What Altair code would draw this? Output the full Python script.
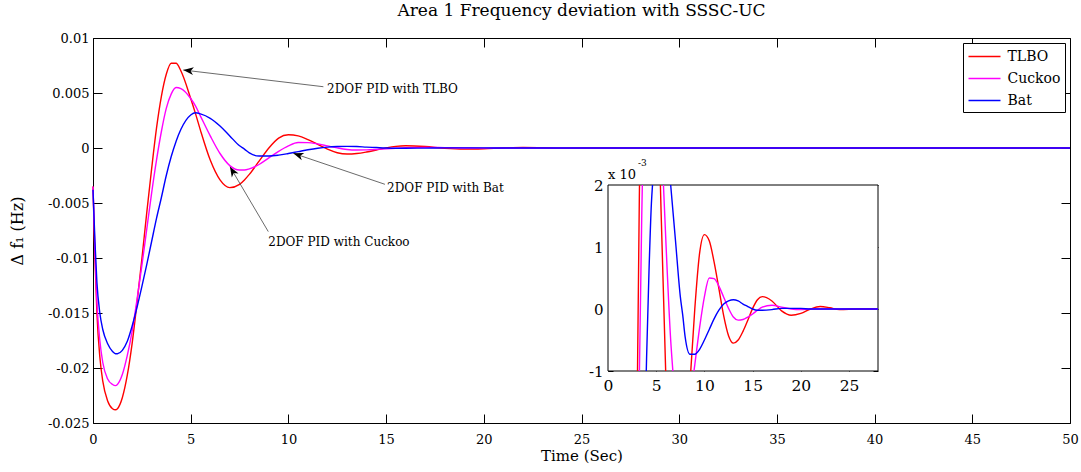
import math
import altair as alt
import pandas as pd

# ---------------- data ----------------
SERIES = ["TLBO", "Cuckoo", "Bat"]
COLORS = ["#ff0000", "#ff00ff", "#0000ff"]

TIME = [0, 0.1, 0.2, 0.35, 0.5, 0.75, 1.0, 1.15, 1.25, 1.5, 1.75, 2.0, 2.25, 2.5, 2.75,
        3.0, 3.25, 3.5, 3.75, 4.0, 4.25, 4.5, 5.0, 5.25, 5.5, 6.0, 6.5, 7.0, 7.5, 7.75,
        8.0, 8.5, 9.0, 9.5, 10.0, 10.5, 11.0, 11.5, 12.0, 12.5, 13.0, 13.5, 14.0, 14.5,
        15.0, 15.5, 16.0, 17.0, 18.0, 19.0, 20.0, 21.0, 22.0, 23.0, 24.0, 26.0, 28.0,
        30.0, 40.0, 50.0]

TLBO = [-0.0035, -0.0100, -0.0150, -0.0190, -0.0212, -0.0230, -0.0237, -0.0238, -0.0237,
        -0.0227, -0.0207, -0.0178, -0.0141, -0.0101, -0.0059, -0.0019, 0.0018, 0.0047,
        0.0067, 0.0077, 0.0077, 0.0070, 0.0045, 0.0031, 0.0016, -0.0011, -0.0029, -0.0036,
        -0.0033, -0.0029, -0.0024, -0.0012, 0.0000, 0.0009, 0.0012, 0.0011, 0.00076,
        0.00033, -0.00011, -0.00043, -0.00055, -0.00050, -0.00036, -0.00018, 0.00001,
        0.00015, 0.00020, 0.00013, -0.00003, -0.00010, -0.00007, 0.0, 0.00004, 0.00002,
        -0.00001, 0.0, 0.0, 0.0, 0.0, 0.0]

CUCKOO = [-0.0035, -0.0095, -0.0140, -0.0175, -0.0195, -0.0210, -0.0215, -0.0216, -0.0215,
          -0.0206, -0.0189, -0.0167, -0.0138, -0.0107, -0.0074, -0.0041, -0.0011, 0.0015,
          0.0036, 0.0049, 0.0055, 0.0054, 0.0045, 0.0038, 0.0029, 0.0011, -0.0005, -0.0016,
          -0.0020, -0.0020, -0.0019, -0.0015, -0.0009, -0.0003, 0.0002, 0.0005, 0.00049,
          0.00037, 0.00019, 0.00001, -0.00013, -0.00018, -0.00017, -0.00013, -0.00008,
          -0.00002, 0.00003, 0.00006, 0.00003, 0.0, -0.00001, 0.0, 0.0, 0.0, 0.0, 0.0,
          0.0, 0.0, 0.0, 0.0]

BAT = [-0.0038, -0.0085, -0.0122, -0.0150, -0.0165, -0.0178, -0.0185, -0.0187, -0.0187,
       -0.0184, -0.0176, -0.0162, -0.0145, -0.0126, -0.0106, -0.0085, -0.0064, -0.0045,
       -0.0025, -0.0008, 0.0006, 0.0017, 0.0030, 0.0032, 0.0031, 0.0027, 0.0020, 0.0011,
       0.0002, -0.0001, -0.00045, -0.00073, -0.00073, -0.00065, -0.00050, -0.00033,
       -0.00016, -0.00002, 0.00008, 0.00013, 0.00015, 0.00013, 0.00008, 0.00004, 0.0,
       -0.00002, -0.00002, -0.00001, 0.00001, 0.00001, 0.00001, 0.0, 0.0, 0.0, 0.0, 0.0,
       0.0, 0.0, 0.0, 0.0]

X_TICKS = [0, 5, 10, 15, 20, 25, 30, 35, 40, 45, 50]
Y_TICKS = [0.01, 0.005, 0, -0.005, -0.01, -0.015, -0.02, -0.025]
INSET_X_TICKS = [0, 5, 10, 15, 20, 25]
INSET_Y_TICKS = [-0.001, 0, 0.001, 0.002]

ANN_TEXT = ["2DOF PID with TLBO", "2DOF PID with Bat", "2DOF PID with Cuckoo"]
ANN_TIP_T = [4.62, 10.25, 7.01]
ANN_TIP_V = [0.00709, -0.00048, -0.0017]
ANN_TAIL_T = [11.79, 14.94, 8.97]
ANN_TAIL_V = [0.00557, -0.0033, -0.0076]
ANN_TXT_T = [11.98, 15.05, 8.97]
ANN_TXT_V = [0.00536, -0.00361, -0.00852]

# ---------------- layout ----------------
W, H = 977, 385
X_DOMAIN = [0, 50]
Y_DOMAIN = [-0.025, 0.01]
INSET_X_DOMAIN = [0, 28]
INSET_Y_DOMAIN = [-0.001, 0.002]
INSET_X_RANGE = [515, 785]
INSET_Y_RANGE = [333, 147]
TICK = 9
ITICK = 5
FONT = "DejaVu Serif"

rows = []
for name, vals in zip(SERIES, [TLBO, CUCKOO, BAT]):
    for t, v in zip(TIME, vals):
        rows.append({"series": name, "t": t, "v": v})
df = pd.DataFrame(rows)


def clip_rows(name, ts, vs, lo, hi, tmax):
    out, seg, open_ = [], 0, False
    for i in range(len(ts) - 1):
        t0, v0, t1, v1 = ts[i], vs[i], ts[i + 1], vs[i + 1]
        if t0 >= tmax:
            break
        a, b = 0.0, 1.0
        dv = v1 - v0
        if dv == 0:
            if v0 < lo or v0 > hi:
                a, b = 1.0, 0.0
        else:
            sa, sb = (lo - v0) / dv, (hi - v0) / dv
            a, b = max(a, min(sa, sb)), min(b, max(sa, sb))
        if a > b:
            if open_:
                seg += 1
                open_ = False
            continue
        if not open_:
            out.append({"series": name, "t": t0 + a * (t1 - t0), "v": v0 + a * dv, "seg": seg})
            open_ = True
        out.append({"series": name, "t": t0 + b * (t1 - t0), "v": v0 + b * dv, "seg": seg})
        if b < 1.0:
            seg += 1
            open_ = False
    return out


inset_rows = []
for name, vals in zip(SERIES, [TLBO, CUCKOO, BAT]):
    inset_rows += clip_rows(name, TIME, vals, INSET_Y_DOMAIN[0], INSET_Y_DOMAIN[1], INSET_X_DOMAIN[1])
df_inset = pd.DataFrame(inset_rows)


def px(t):
    return (t - X_DOMAIN[0]) / (X_DOMAIN[1] - X_DOMAIN[0]) * W


def py(v):
    return (Y_DOMAIN[1] - v) / (Y_DOMAIN[1] - Y_DOMAIN[0]) * H


angles = []
for tt, tv, at, av in zip(ANN_TIP_T, ANN_TIP_V, ANN_TAIL_T, ANN_TAIL_V):
    dx = px(tt) - px(at)
    dy = py(tv) - py(av)
    angles.append(math.degrees(math.atan2(dx, -dy)) % 360)

df_ann = pd.DataFrame({
    "text": ANN_TEXT, "tip_t": ANN_TIP_T, "tip_v": ANN_TIP_V,
    "tail_t": ANN_TAIL_T, "tail_v": ANN_TAIL_V,
    "txt_t": ANN_TXT_T, "txt_v": ANN_TXT_V, "ang": angles,
})

df_frame = pd.DataFrame({"x0": [INSET_X_DOMAIN[0]], "x1": [INSET_X_DOMAIN[1]],
                         "y0": [INSET_Y_DOMAIN[0]], "y1": [INSET_Y_DOMAIN[1]]})


# ---------------- scales (fresh objects per layer, identical settings) ----------------
def xs():
    return alt.Scale(domain=X_DOMAIN)


def ys():
    return alt.Scale(domain=Y_DOMAIN)


def ixs():
    return alt.Scale(domain=INSET_X_DOMAIN, range=INSET_X_RANGE)


def iys():
    return alt.Scale(domain=INSET_Y_DOMAIN, range=INSET_Y_RANGE)


LEGEND_LINE = "M-1,0 L3,0"


def color():
    return alt.Color(
        "series:N",
        scale=alt.Scale(domain=SERIES, range=COLORS),
        sort=SERIES,
        title=None,
        legend=alt.Legend(
            orient="none", legendX=870, legendY=5, fillColor="white", strokeColor="black",
            padding=4.5, symbolType=LEGEND_LINE, symbolSize=256, symbolStrokeWidth=1.5,
            labelFont=FONT, labelFontSize=14, labelColor="black", labelOffset=22,
            rowPadding=6,
        ),
    )


# ---------------- main panel ----------------
main_lines = alt.Chart(df).mark_line(strokeWidth=1.4, interpolate="monotone").encode(
    x=alt.X("t:Q", scale=xs(), axis=alt.Axis(
        values=X_TICKS, orient="bottom", offset=-TICK, tickSize=TICK, domain=False,
        labelPadding=10, format="d", labelFlush=False, labelOverlap=False,
        title="Time (Sec)", titlePadding=2)),
    y=alt.Y("v:Q", scale=ys(), axis=alt.Axis(
        values=Y_TICKS, orient="left", offset=-TICK, tickSize=TICK, domain=False,
        labelPadding=4, labelExpr="'' + datum.value", labelOverlap=False,
        title="Δ f₁ (Hz)", titlePadding=22, titleFontSize=16)),
    color=color(),
)

mirror = alt.Chart(df).mark_point(opacity=0).encode(
    x=alt.X("t:Q", scale=xs(), axis=alt.Axis(
        values=X_TICKS, orient="top", offset=-TICK, tickSize=TICK, domain=False,
        labels=False, title=None)),
    y=alt.Y("v:Q", scale=ys(), axis=alt.Axis(
        values=Y_TICKS, orient="right", offset=-TICK, tickSize=TICK, domain=False,
        labels=False, title=None)),
)

arrows = alt.Chart(df_ann).mark_rule(color="#444444", strokeWidth=0.8).encode(
    x=alt.X("tail_t:Q", scale=xs(), axis=None),
    y=alt.Y("tail_v:Q", scale=ys(), axis=None),
    x2="tip_t:Q", y2="tip_v:Q",
)

ARROW_PATH = "M0,0 L0.38,1 L0,0.72 L-0.38,1 Z"
heads = alt.Chart(df_ann).mark_point(shape=ARROW_PATH, filled=True, size=420,
                                     color="black", opacity=1, strokeWidth=0).encode(
    x=alt.X("tip_t:Q", scale=xs(), axis=None),
    y=alt.Y("tip_v:Q", scale=ys(), axis=None),
    angle=alt.Angle("ang:Q", scale=None),
)

labels = alt.Chart(df_ann).mark_text(font=FONT, fontSize=12, align="left",
                                     baseline="middle", color="black").encode(
    x=alt.X("txt_t:Q", scale=xs(), axis=None),
    y=alt.Y("txt_v:Q", scale=ys(), axis=None),
    text="text:N",
)

# ---------------- inset ----------------
frame = alt.Chart(df_frame).mark_rect(fill="white", stroke="black", strokeWidth=1).encode(
    x=alt.X("x0:Q", scale=ixs(), axis=alt.Axis(
        values=INSET_X_TICKS, orient="bottom", offset=INSET_Y_RANGE[0] - ITICK - H,
        tickSize=ITICK, domain=False, labelPadding=7, format="d", labelFlush=False,
        labelOverlap=False, labelFontSize=15.5, title=None)),
    x2="x1:Q",
    y=alt.Y("y0:Q", scale=iys(), axis=alt.Axis(
        values=INSET_Y_TICKS, orient="left", offset=-(INSET_X_RANGE[0] + ITICK),
        tickSize=ITICK, domain=False, labelPadding=5, labelOverlap=False,
        labelExpr="'' + round(datum.value * 1000)", labelFontSize=15, title=None)),
    y2="y1:Q",
)

inset_mirror = alt.Chart(df_frame).mark_rect(opacity=0).encode(
    x=alt.X("x0:Q", scale=ixs(), axis=alt.Axis(
        values=INSET_X_TICKS, orient="top", offset=-(INSET_Y_RANGE[1] + ITICK),
        tickSize=ITICK, domain=False, labels=False, title=None)),
    x2="x1:Q",
    y=alt.Y("y0:Q", scale=iys(), axis=alt.Axis(
        values=INSET_Y_TICKS, orient="right", offset=INSET_X_RANGE[1] - ITICK - W,
        tickSize=ITICK, domain=False, labels=False, title=None)),
    y2="y1:Q",
)

inset_lines = alt.Chart(df_inset).mark_line(strokeWidth=1.4, interpolate="monotone").encode(
    x=alt.X("t:Q", scale=ixs(), axis=None),
    y=alt.Y("v:Q", scale=iys(), axis=None),
    color=color(),
    detail="seg:N",
)

df_exp = pd.DataFrame({"t": [INSET_X_DOMAIN[0]], "v": [INSET_Y_DOMAIN[1]],
                       "base": ["x 10"], "power": ["-3"]})
exp_base = alt.Chart(df_exp).mark_text(font=FONT, fontSize=13, align="left",
                                       baseline="middle", dy=-10, color="black").encode(
    x=alt.X("t:Q", scale=ixs(), axis=None), y=alt.Y("v:Q", scale=iys(), axis=None),
    text="base:N")
exp_pow = alt.Chart(df_exp).mark_text(font=FONT, fontSize=9, align="left",
                                      baseline="middle", dx=30, dy=-22, color="black").encode(
    x=alt.X("t:Q", scale=ixs(), axis=None), y=alt.Y("v:Q", scale=iys(), axis=None),
    text="power:N")

chart = alt.layer(
    main_lines, mirror, arrows, heads, labels,
    frame, inset_mirror, inset_lines, exp_base, exp_pow,
).resolve_scale(
    x="independent", y="independent"
).properties(
    width=W, height=H,
    autosize=alt.AutoSizeParams(type="none"),
    padding={"left": 93, "top": 38, "right": 11, "bottom": 49},
    title=alt.TitleParams("Area 1 Frequency deviation with SSSC-UC", anchor="middle",
                          frame="group", offset=12),
).configure_view(
    stroke="black", strokeWidth=1
).configure_axis(
    labelFont=FONT, titleFont=FONT, labelColor="black", titleColor="black",
    tickColor="black", labelFontSize=13, titleFontSize=15, titleFontWeight="normal",
    grid=False,
).configure_legend(
    labelFont=FONT, labelFontSize=14, labelColor="black"
).configure_title(
    font=FONT, fontSize=17, fontWeight="normal", color="black"
)

chart.save("out.html", embed_options={"renderer": "svg", "actions": False})
